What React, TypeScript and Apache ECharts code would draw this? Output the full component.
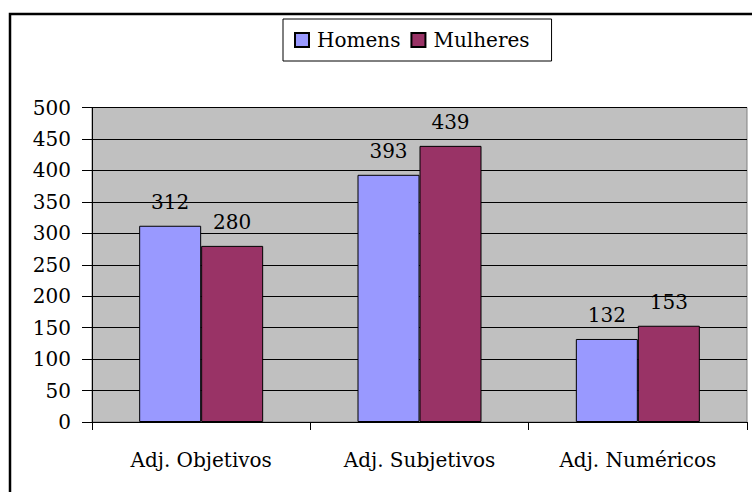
import React, { useEffect, useRef } from "react";
import * as echarts from "echarts";

const categories = ["Adj. Objetivos", "Adj. Subjetivos", "Adj. Numéricos"];
const homens = [312, 393, 132];
const mulheres = [280, 439, 153];
const seriesNames = ["Homens", "Mulheres"];

const FONT = "DejaVu Serif";
const FS = 20;

export default function App() {
  const ref = useRef<HTMLDivElement>(null);
  useEffect(() => {
    if (!ref.current) return;
    const chart = echarts.init(ref.current, null, { renderer: "svg" });
    const labelStyle = {
      show: true,
      position: "top" as const,
      distance: 14,
      color: "#000",
      fontSize: FS,
      fontFamily: FONT,
    };
    chart.setOption({
      animation: false,
      backgroundColor: "#fff",
      textStyle: { fontFamily: FONT, color: "#000" },
      graphic: [
        {
          type: "rect",
          shape: { x: 10, y: 14, width: 760, height: 500 },
          style: { fill: "none", stroke: "#000", lineWidth: 2.5 },
          silent: true,
          z: 100,
        },
      ],
      legend: {
        left: 283,
        top: 19,
        data: [
          { name: seriesNames[0], textStyle: { width: 83 } },
          { name: seriesNames[1], textStyle: { width: 96 } },
        ],
        orient: "horizontal",
        itemWidth: 14,
        itemHeight: 14,
        itemGap: 10,
        padding: [11, 22, 11, 11],
        borderColor: "#000",
        borderWidth: 1,
        backgroundColor: "#fff",
        icon: "rect",
        textStyle: { fontSize: FS, fontFamily: FONT, color: "#000", padding: [0, 0, 0, 3] },
      },
      grid: {
        left: 92,
        right: 5,
        top: 107.5,
        bottom: 70,
        show: true,
        backgroundColor: "#C0C0C0",
        borderColor: "#808080",
        borderWidth: 1,
      },
      xAxis: {
        type: "category",
        data: categories,
        boundaryGap: true,
        axisLine: { show: true, lineStyle: { color: "#000", width: 1 } },
        axisTick: { show: true, length: 8, lineStyle: { color: "#000" } },
        axisLabel: { fontSize: FS, fontFamily: FONT, color: "#000", margin: 28 },
        splitLine: { show: false },
      },
      yAxis: {
        type: "value",
        min: 0,
        max: 500,
        interval: 50,
        axisLine: { show: true, lineStyle: { color: "#000", width: 1 } },
        axisTick: { show: true, length: 10, lineStyle: { color: "#000" } },
        axisLabel: { fontSize: FS, fontFamily: FONT, color: "#000", margin: 21 },
        splitLine: { show: true, lineStyle: { color: "#000", width: 1.2 } },
      },
      series: [
        {
          name: seriesNames[0],
          type: "bar",
          data: homens,
          barWidth: 62,
          barGap: "0%",
          itemStyle: { color: "#9999FF", borderColor: "#000", borderWidth: 1 },
          label: labelStyle,
        },
        {
          name: seriesNames[1],
          type: "bar",
          data: mulheres,
          barWidth: 62,
          barGap: "0%",
          itemStyle: { color: "#993366", borderColor: "#000", borderWidth: 1 },
          label: labelStyle,
        },
      ],
    });
    return () => chart.dispose();
  }, []);
  return (
    <div
      ref={ref}
      style={{ position: "fixed", left: 0, top: 0, width: 752, height: 492 }}
    />
  );
}
